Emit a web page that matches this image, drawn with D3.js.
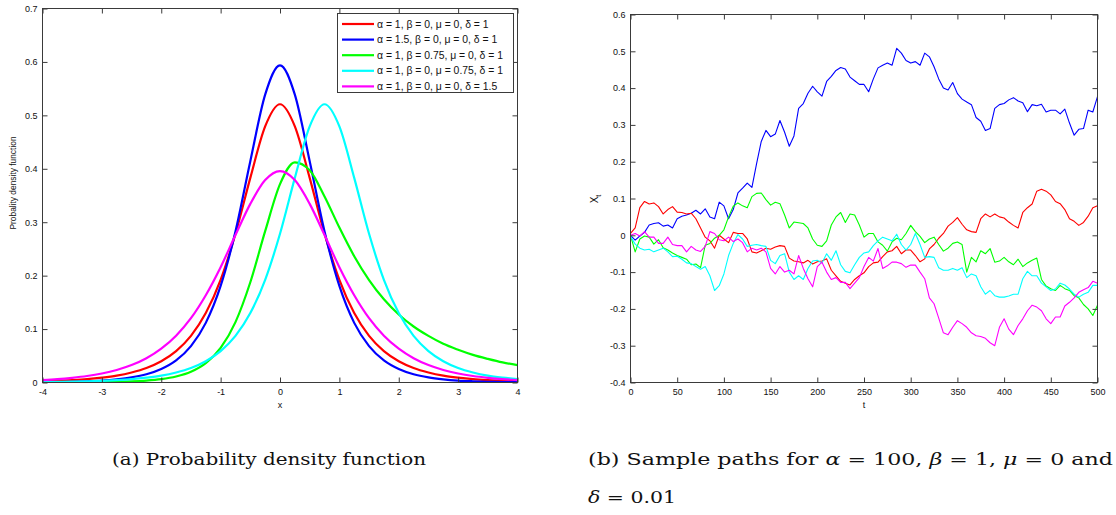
<!DOCTYPE html>
<html><head><meta charset="utf-8">
<script src="https://cdn.jsdelivr.net/npm/d3@7"></script>
<style>
body{margin:0;background:#fff}
svg{display:block}
text{font-family:"Liberation Sans",Arial,sans-serif;fill:#111}
</style>
</head><body>
<svg id="c" width="1116" height="515"></svg>
<script>
// ---------- (a) PDF data ----------
const xGrid = [-4,-3.75,-3.5,-3.25,-3,-2.75,-2.5,-2.25,-2,-1.75,-1.5,-1.25,-1,-0.75,-0.5,-0.25,0,0.25,0.5,0.75,1,1.25,1.5,1.75,2,2.25,2.5,2.75,3,3.25,3.5,3.75,4];
const pdfA1 = [0.0023,0.0032,0.0045,0.0063,0.0091,0.0129,0.0188,0.0272,0.0399,0.0588,0.0873,0.1299,0.1922,0.2783,0.3830,0.4793,0.5208,0.4793,0.3830,0.2783,0.1922,0.1299,0.0873,0.0588,0.0399,0.0272,0.0188,0.0129,0.0091,0.0063,0.0045,0.0032,0.0023];
const pdfA15 = [0.0006,0.0009,0.0014,0.0023,0.0036,0.0059,0.0095,0.0154,0.0253,0.0414,0.0681,0.1116,0.1807,0.2828,0.4142,0.5387,0.5936,0.5387,0.4142,0.2828,0.1807,0.1116,0.0681,0.0414,0.0253,0.0154,0.0095,0.0059,0.0036,0.0023,0.0014,0.0009,0.0006];
const pdfB075 = [0.0001,0.0001,0.0002,0.0004,0.0007,0.0012,0.0021,0.0036,0.0063,0.0113,0.0202,0.0363,0.0647,0.1130,0.1876,0.2832,0.3712,0.4121,0.3972,0.3482,0.2900,0.2364,0.1917,0.1558,0.1273,0.1048,0.0872,0.0724,0.0613,0.0517,0.0442,0.0376,0.0326];
const pdfMu075 = [0.0008,0.0012,0.0016,0.0023,0.0032,0.0045,0.0063,0.0091,0.0129,0.0188,0.0272,0.0399,0.0588,0.0873,0.1299,0.1922,0.2783,0.3830,0.4793,0.5208,0.4793,0.3830,0.2783,0.1922,0.1299,0.0873,0.0588,0.0399,0.0272,0.0188,0.0129,0.0091,0.0063];
const pdfD15 = [0.0046,0.0063,0.0088,0.0121,0.0168,0.0234,0.0326,0.0454,0.0633,0.0876,0.1204,0.1634,0.2158,0.2761,0.3343,0.3788,0.3957,0.3788,0.3343,0.2761,0.2158,0.1634,0.1204,0.0876,0.0633,0.0454,0.0326,0.0234,0.0168,0.0121,0.0088,0.0063,0.0046];
const pdfLabels = ["α = 1, β = 0, μ = 0, δ = 1","α = 1.5, β = 0, μ = 0, δ = 1","α = 1, β = 0.75, μ = 0, δ = 1","α = 1, β = 0, μ = 0.75, δ = 1","α = 1, β = 0, μ = 0, δ = 1.5"];
const pdfXTicks = [-4,-3,-2,-1,0,1,2,3,4];
const pdfYTicks = [0,0.1,0.2,0.3,0.4,0.5,0.6,0.7];

// ---------- (b) sample path data (t = 0,5,...,500) ----------
const pathT = d3.range(0, 501, 5);
const pathBlue = [0.0,-0.013,-0.002,0.008,0.028,0.032,0.034,0.025,0.028,0.02,
0.045,0.052,0.055,0.06,0.068,0.058,0.072,0.05,0.045,0.09,
0.08,0.045,0.07,0.115,0.128,0.142,0.13,0.195,0.255,0.285,
0.268,0.275,0.312,0.28,0.242,0.27,0.345,0.358,0.386,0.405,
0.39,0.378,0.418,0.432,0.448,0.456,0.452,0.43,0.42,0.41,
0.41,0.39,0.425,0.455,0.462,0.468,0.462,0.508,0.495,0.475,
0.468,0.472,0.462,0.495,0.485,0.458,0.425,0.4,0.395,0.415,
0.385,0.37,0.362,0.355,0.32,0.31,0.285,0.29,0.345,0.355,
0.358,0.368,0.374,0.365,0.36,0.336,0.355,0.352,0.356,0.335,
0.34,0.34,0.33,0.343,0.305,0.272,0.288,0.29,0.34,0.335,0.377];
const pathRed = [0.005,0.02,0.075,0.092,0.085,0.088,0.078,0.058,0.07,0.078,
0.063,0.062,0.058,0.06,0.045,0.02,-0.005,-0.015,-0.035,0.0,
-0.01,-0.02,0.008,0.005,0.005,-0.01,-0.045,-0.048,-0.042,-0.035,
-0.038,-0.032,-0.028,-0.03,-0.062,-0.07,-0.072,-0.075,-0.068,-0.078,
-0.072,-0.07,-0.064,-0.095,-0.11,-0.125,-0.13,-0.135,-0.12,-0.11,
-0.102,-0.085,-0.075,-0.073,-0.058,-0.045,-0.042,-0.03,-0.05,-0.04,
-0.04,-0.055,-0.072,-0.064,-0.037,-0.025,-0.008,0.005,0.025,0.035,
0.048,0.03,0.015,0.01,0.008,0.045,0.058,0.05,0.058,0.05,
0.047,0.036,0.027,0.02,0.062,0.075,0.085,0.12,0.125,0.12,
0.11,0.092,0.086,0.07,0.045,0.038,0.027,0.035,0.052,0.075,0.08];
const pathGreen = [0.0,-0.045,-0.01,-0.002,-0.005,-0.024,-0.012,-0.034,-0.04,-0.048,
-0.055,-0.06,-0.065,-0.08,-0.078,-0.088,-0.027,-0.022,-0.008,0.0,
0.015,0.05,0.079,0.088,0.08,0.075,0.105,0.114,0.115,0.097,
0.082,0.09,0.086,0.055,0.02,0.036,0.034,0.032,0.02,-0.01,
-0.027,-0.03,-0.015,0.028,0.05,0.062,0.035,0.058,0.055,0.028,
-0.005,0.005,0.005,-0.018,-0.027,-0.043,-0.018,-0.008,-0.012,0.005,
0.027,0.01,-0.003,-0.02,-0.01,-0.005,-0.025,-0.043,-0.035,-0.022,
-0.018,-0.025,-0.1,-0.06,-0.072,-0.042,-0.05,-0.036,-0.073,-0.07,
-0.06,-0.072,-0.08,-0.065,-0.085,-0.075,-0.068,-0.062,-0.12,-0.138,
-0.145,-0.15,-0.136,-0.145,-0.15,-0.164,-0.17,-0.188,-0.2,-0.218,-0.19];
const pathCyan = [-0.003,-0.024,-0.035,-0.04,-0.038,-0.045,-0.04,-0.035,-0.045,-0.058,
-0.057,-0.065,-0.075,-0.077,-0.085,-0.092,-0.085,-0.11,-0.15,-0.137,
-0.105,-0.055,-0.022,0.002,-0.01,-0.03,-0.027,-0.025,-0.028,-0.03,
-0.068,-0.077,-0.055,-0.05,-0.1,-0.12,-0.11,-0.12,-0.09,-0.07,
-0.068,-0.075,-0.05,-0.068,-0.042,-0.08,-0.098,-0.102,-0.08,-0.06,
-0.048,-0.045,-0.028,-0.015,-0.005,-0.01,-0.015,0.003,-0.025,-0.04,
-0.025,0.005,-0.025,-0.06,-0.058,-0.06,-0.088,-0.095,-0.095,-0.09,
-0.095,-0.088,-0.115,-0.105,-0.11,-0.14,-0.16,-0.15,-0.164,-0.168,
-0.168,-0.165,-0.16,-0.16,-0.118,-0.098,-0.11,-0.11,-0.13,-0.14,
-0.15,-0.146,-0.13,-0.135,-0.146,-0.16,-0.168,-0.16,-0.155,-0.136,-0.136];
const pathMagenta = [0.0,0.005,-0.002,0.01,-0.005,-0.005,-0.022,-0.022,-0.005,-0.025,
-0.028,-0.028,-0.045,-0.03,-0.04,-0.044,-0.03,0.01,0.005,-0.012,
-0.015,-0.005,-0.017,-0.01,-0.02,-0.045,-0.035,-0.04,-0.035,-0.045,
-0.09,-0.105,-0.085,-0.1,-0.095,-0.105,-0.055,-0.09,-0.118,-0.14,
-0.085,-0.073,-0.1,-0.12,-0.115,-0.128,-0.128,-0.145,-0.13,-0.115,
-0.085,-0.06,-0.07,-0.036,-0.09,-0.083,-0.073,-0.073,-0.077,-0.087,
-0.081,-0.081,-0.1,-0.118,-0.17,-0.186,-0.225,-0.265,-0.27,-0.25,
-0.232,-0.24,-0.25,-0.265,-0.273,-0.275,-0.28,-0.292,-0.3,-0.25,
-0.227,-0.255,-0.27,-0.245,-0.227,-0.205,-0.19,-0.195,-0.205,-0.227,
-0.24,-0.222,-0.222,-0.192,-0.182,-0.17,-0.155,-0.148,-0.142,-0.125,-0.13];
const pathXTicks = [0,50,100,150,200,250,300,350,400,450,500];
const pathYTicks = [-0.4,-0.3,-0.2,-0.1,0,0.1,0.2,0.3,0.4,0.5,0.6];

// ---------- drawing ----------
const svg = d3.select("#c");
svg.append("rect").attr("width",1116).attr("height",515).attr("fill","#fff");
const fmt = d => String(+(+d).toFixed(1));
const FRAME = "#3a3a3a";
const TICKFS = 9;

function frame(g, x, y, xt, yt, fs){
  const [x0,x1] = x.range(), [y1,y0] = y.range();
  const ax = (a) => { a.select(".domain").remove(); a.selectAll("line").attr("stroke",FRAME); a.selectAll("text").attr("font-size",fs).attr("fill","#111").style("font-family",'"Liberation Sans",Arial,sans-serif'); };
  g.append("g").attr("transform",`translate(0,${y1})`).call(d3.axisBottom(x).tickValues(xt).tickSize(-5).tickPadding(6).tickFormat(fmt)).call(ax);
  g.append("g").attr("transform",`translate(0,${y0})`).call(d3.axisTop(x).tickValues(xt).tickSize(-5).tickFormat("")).call(ax);
  g.append("g").attr("transform",`translate(${x0},0)`).call(d3.axisLeft(y).tickValues(yt).tickSize(-5).tickPadding(5).tickFormat(fmt)).call(ax);
  g.append("g").attr("transform",`translate(${x1},0)`).call(d3.axisRight(y).tickValues(yt).tickSize(-5).tickFormat("")).call(ax);
  g.append("rect").attr("x",x0).attr("y",y0).attr("width",x1-x0).attr("height",y1-y0).attr("fill","none").attr("stroke",FRAME).attr("stroke-width",1);
}

// (a)
const gA = svg.append("g");
const xA = d3.scaleLinear().domain([-4,4]).range([42.5,517.5]);
const yA = d3.scaleLinear().domain([0,0.7]).range([382.5,8.5]);
gA.append("clipPath").attr("id","clipA").append("rect").attr("x",42.5).attr("y",8.5).attr("width",475).attr("height",374);
const pdfSeries = [pdfA1,pdfA15,pdfB075,pdfMu075,pdfD15];
const pdfColors = ["#ff0000","#0000ff","#00ff00","#00ffff","#ff00ff"];
const lineA = d3.line().x(d=>xA(d[0])).y(d=>yA(d[1])).curve(d3.curveMonotoneX);
pdfSeries.forEach((s,i)=>{
  gA.append("path").attr("clip-path","url(#clipA)").attr("d",lineA(s.map((v,j)=>[xGrid[j],v])))
    .attr("fill","none").attr("stroke",pdfColors[i]).attr("stroke-width",2.2).attr("stroke-linejoin","round");
});
frame(gA, xA, yA, pdfXTicks, pdfYTicks, TICKFS);
// legend
const lg = gA.append("g");
lg.append("rect").attr("x",337.5).attr("y",13.5).attr("width",176).attr("height",79).attr("fill","#fff").attr("stroke",FRAME);
pdfLabels.forEach((lab,i)=>{
  const yy = 24 + i*15.6;
  lg.append("line").attr("x1",342).attr("x2",374).attr("y1",yy).attr("y2",yy).attr("stroke",pdfColors[i]).attr("stroke-width",2.2);
  lg.append("text").attr("x",377).attr("y",yy).attr("dy","0.35em").attr("font-size",10.4).text(lab);
});
gA.append("text").attr("x",280).attr("y",408).attr("text-anchor","middle").attr("font-size",TICKFS).text("x");
gA.append("text").attr("transform","translate(16,183) rotate(-90)").attr("text-anchor","middle").attr("font-size",8.4).text("Probality density function");

// (b)
const gB = svg.append("g");
const xB = d3.scaleLinear().domain([0,500]).range([630.5,1097.5]);
const yB = d3.scaleLinear().domain([-0.4,0.6]).range([382.5,14.5]);
gB.append("clipPath").attr("id","clipB").append("rect").attr("x",630.5).attr("y",14.5).attr("width",467).attr("height",368);
const lineB = d3.line().x(d=>xB(d[0])).y(d=>yB(d[1]));
const pathSeries = [pathBlue,pathRed,pathGreen,pathCyan,pathMagenta];
const pathColors = ["#0000ff","#ff0000","#00ff00","#00ffff","#ff00ff"];
pathSeries.forEach((s,i)=>{
  gB.append("path").attr("clip-path","url(#clipB)").attr("d",lineB(s.map((v,j)=>[pathT[j],v])))
    .attr("fill","none").attr("stroke",pathColors[i]).attr("stroke-width",1.1).attr("stroke-linejoin","round");
});
frame(gB, xB, yB, pathXTicks, pathYTicks, TICKFS);
gB.append("text").attr("x",864).attr("y",408).attr("text-anchor","middle").attr("font-size",TICKFS).text("t");
const yl = gB.append("text").attr("transform","translate(598,199) rotate(-90)").attr("text-anchor","middle").attr("font-size",10);
yl.append("tspan").text("X");
yl.append("tspan").attr("font-size",7).attr("dy",3).text("t");

// captions
const serif = '"DejaVu Serif","Liberation Serif",serif';
svg.append("text").attr("x",112).attr("y",465).attr("font-size",17).style("font-family",serif)
  .attr("textLength",314).attr("lengthAdjust","spacingAndGlyphs").text("(a) Probability density function");
const cb = svg.append("text").attr("x",588).attr("y",465).attr("font-size",17).style("font-family",serif)
  .attr("textLength",525).attr("lengthAdjust","spacingAndGlyphs");
const parts = [["(b) Sample paths for ",0],["α",1],[" = 100, ",0],["β",1],[" = 1, ",0],["μ",1],[" = 0 and",0]];
parts.forEach(p=>cb.append("tspan").attr("font-style",p[1]?"italic":"normal").text(p[0]));
const cd = svg.append("text").attr("x",588).attr("y",503).attr("font-size",17).style("font-family",serif)
  .attr("textLength",88).attr("lengthAdjust","spacingAndGlyphs");
cd.append("tspan").attr("font-style","italic").text("δ");
cd.append("tspan").text(" = 0.01");
</script>
</body></html>
